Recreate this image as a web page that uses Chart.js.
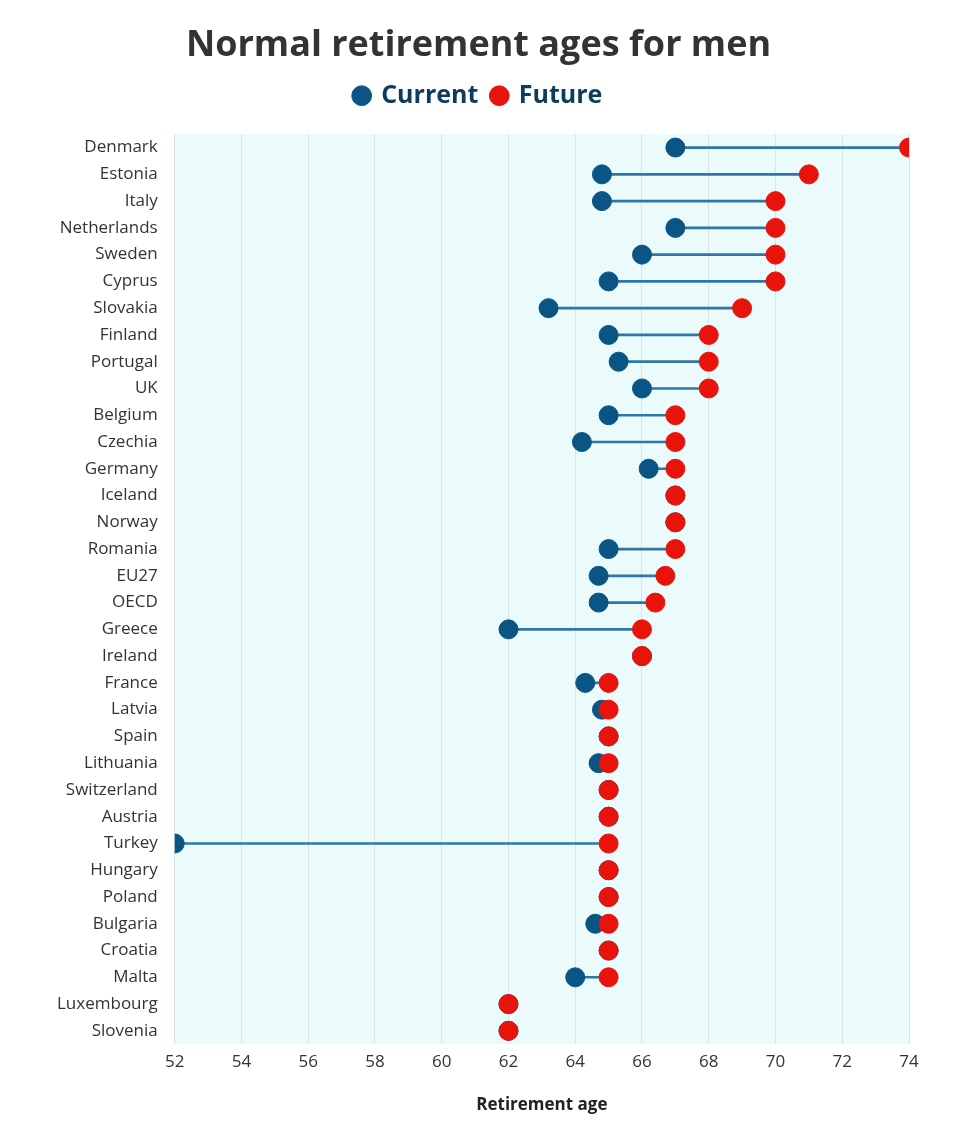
<!DOCTYPE html>
<html><head><meta charset="utf-8">
<script src="https://cdn.jsdelivr.net/npm/chart.js@4"></script>
<style>html,body{margin:0;padding:0;background:#fff}#w{width:980px;height:1129px}</style>
</head><body><div id="w"><canvas id="c"></canvas></div>
<script>
const countries=["Denmark","Estonia","Italy","Netherlands","Sweden","Cyprus","Slovakia","Finland","Portugal","UK","Belgium","Czechia","Germany","Iceland","Norway","Romania","EU27","OECD","Greece","Ireland","France","Latvia","Spain","Lithuania","Switzerland","Austria","Turkey","Hungary","Poland","Bulgaria","Croatia","Malta","Luxembourg","Slovenia"];
const current=[67,64.8,64.8,67,66,65,63.2,65,65.3,66,65,64.2,66.2,67,67,65,64.7,64.7,62,66,64.3,64.8,65,64.7,65,65,52,65,65,64.6,65,64,62,62];
const future=[74,71,70,70,70,70,69,68,68,68,67,67,67,67,67,67,66.7,66.4,66,66,65,65,65,65,65,65,65,65,65,65,65,65,62,62];
const xTicks=[52,54,56,58,60,62,64,66,68,70,72,74];
const bgPlugin={id:'bg',beforeDraw(ch){const a=ch.chartArea,x=ch.ctx;x.save();x.fillStyle='#ebfafa';x.fillRect(a.left,a.top,a.right-a.left,a.bottom-a.top);x.restore();}};
const legendGap={id:'legendGap',beforeInit(ch){const l=ch.legend;if(!l)return;const f=l.fit.bind(l);l.fit=function(){f();this.height+=16;};}};
new Chart(document.getElementById('c'),{
 type:'bar',
 data:{labels:countries,datasets:[
  {type:'bar',label:'range',data:current.map((v,i)=>[v,future[i]]),backgroundColor:'#2f76a6',barThickness:2,order:3},
  {type:'line',label:'Current',data:current,showLine:false,pointRadius:9.5,pointHoverRadius:9.5,pointBackgroundColor:'#0b5584',pointBorderColor:'#0b5584',backgroundColor:'#0b5584',borderColor:'#0b5584',order:2},
  {type:'line',label:'Future',data:future,showLine:false,pointRadius:9.5,pointHoverRadius:9.5,pointBackgroundColor:'#e8140c',pointBorderColor:'#e8140c',backgroundColor:'#e8140c',borderColor:'#e8140c',order:1}
 ]},
 options:{indexAxis:'y',responsive:true,maintainAspectRatio:false,animation:false,
  layout:{padding:{left:48,right:71,top:16,bottom:10}},
  plugins:{
   title:{display:true,text:'Normal retirement ages for men',color:'#333',font:{family:'Open Sans',size:36,weight:'bold'},padding:{top:8,bottom:2}},
   legend:{display:true,labels:{filter:i=>i.text!=='range',sort:(a,b)=>a.datasetIndex-b.datasetIndex,usePointStyle:true,pointStyle:'circle',boxWidth:14,boxHeight:14,color:'#0b3d5c',font:{family:'Open Sans',size:25,weight:'bold'},padding:14},onClick:null},
   tooltip:{enabled:false}},
  scales:{
   x:{type:'linear',min:52,max:74,afterBuildTicks:a=>{a.ticks=xTicks.map(v=>({value:v}));},
      grid:{color:'#d8e4e6',drawTicks:false},border:{display:false},
      ticks:{color:'#333',font:{family:'Open Sans',size:17},padding:8},
      title:{display:true,text:'Retirement age',color:'#222',font:{family:'Open Sans',size:17,weight:'bold'},padding:{top:14}}},
   y:{type:'category',grid:{display:false},border:{display:false},
      ticks:{color:'#333',font:{family:'Open Sans',size:17},padding:9,autoSkip:false}}
  }},
 plugins:[bgPlugin,legendGap]
});
</script></body></html>
